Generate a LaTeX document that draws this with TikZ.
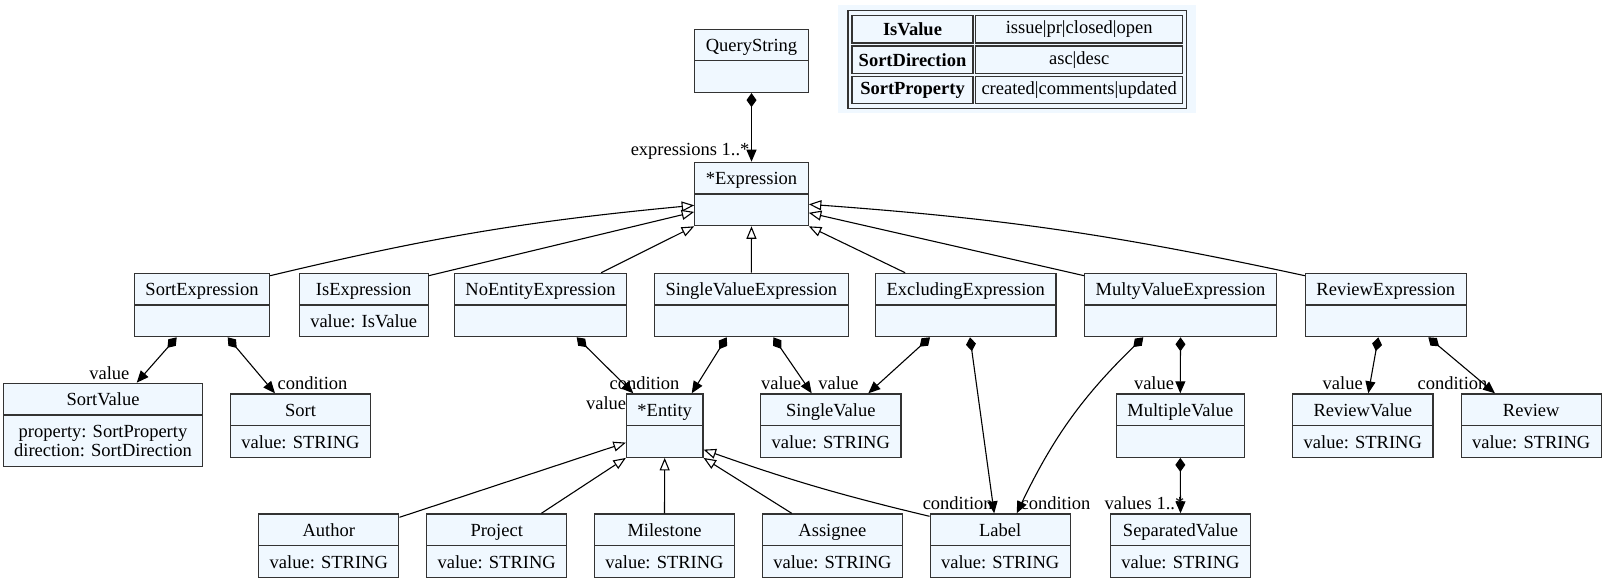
\documentclass[tikz,border=0pt]{standalone}
\usepackage{fontspec}
\setmainfont{Liberation Serif}
\usetikzlibrary{arrows.meta, shapes.multipart, calc}
\definecolor{clsfill}{HTML}{F0F8FF}
\definecolor{clsline}{HTML}{333333}
\newcommand{\hstrut}{\rule[-8.5pt]{0pt}{30.5pt}}
\newcommand{\umlfont}{\fontsize{18.5}{19.4}\selectfont}

\begin{document}
\begin{tikzpicture}[x=1pt, y=1pt,
  cls/.style={rectangle split, rectangle split parts=2, draw=clsline,
              fill=clsfill, line width=1.2pt, inner xsep=11pt,
              inner ysep=0pt, font=\umlfont, align=center, anchor=north},
  comp/.style={{Diamond[length=14pt, width=10pt]}-{Triangle[length=12pt, width=10pt]},
               line width=1.1pt},
  gen/.style={-{Triangle[open, length=12.5pt, width=10pt, fill=white]},
              line width=1.1pt},
  hl/.style={font=\umlfont, inner sep=0pt, pos=1, anchor=east, yshift=10pt},
  hr/.style={hl, anchor=west},
  tkey/.style={draw=clsline, fill=clsfill, line width=1.1pt, font=\umlfont\bfseries,
               minimum width=121pt, minimum height=27.5pt, inner sep=0pt},
  tval/.style={tkey, font=\umlfont, minimum width=207pt}
]
\useasboundingbox (0,0) rectangle (1606,-581);

% Enum table
\fill[clsfill] (838,-5) rectangle (1196,-113);
\draw[clsline, line width=1.1pt] (848,-10.7) rectangle (1186.5,-108.3);
\node[tkey] (isv-k) at (912.5,-29.2) {IsValue};
\node[tval] (isv-v) at (1079.2,-29.2) {issue|pr|closed|open};
\node[tkey] (sdir-k) at (912.5,-59.7) {SortDirection};
\node[tval] (sdir-v) at (1079.2,-59.7) {asc|desc};
\node[tkey] (sprop-k) at (912.5,-90) {SortProperty};
\node[tval] (sprop-v) at (1079.2,-90) {created|comments|updated};

% Root
\node[cls] (qstr) at (751.5,-28.5) {\hstrut QueryString \nodepart{two} \hstrut};
\node[cls] (expr) at (751.5,-161.7) {\hstrut *Expression \nodepart{two} \hstrut};

% Expressions
\node[cls] (sortexpr) at (202,-272.7) {\hstrut SortExpression \nodepart{two} \hstrut};
\node[cls] (isexpr) at (363.7,-272.7) {\hstrut IsExpression \nodepart{two} \hstrut value: IsValue};
\node[cls] (noentexpr) at (540.5,-272.7) {\hstrut NoEntityExpression \nodepart{two} \hstrut};
\node[cls] (svexpr) at (751.3,-272.7) {\hstrut SingleValueExpression \nodepart{two} \hstrut};
\node[cls] (exclexpr) at (965.8,-272.7) {\hstrut ExcludingExpression \nodepart{two} \hstrut};
\node[cls] (mvexpr) at (1180.5,-272.7) {\hstrut MultyValueExpression \nodepart{two} \hstrut};
\node[cls] (revexpr) at (1385.8,-272.7) {\hstrut ReviewExpression \nodepart{two} \hstrut};

% Values
\node[cls] (sortval) at (103,-382.7) {\hstrut SortValue \nodepart{two}
  \rule{0pt}{21.5pt}property: SortProperty\\direction: SortDirection\rule[-9.5pt]{0pt}{9.5pt}};
\node[cls] (sort) at (300.5,-393.3) {\hstrut Sort \nodepart{two} \hstrut value: STRING};
\node[cls] (entity) at (664.7,-393.3) {\hstrut *Entity \nodepart{two} \hstrut};
\node[cls] (singleval) at (830.8,-393.3) {\hstrut SingleValue \nodepart{two} \hstrut value: STRING};
\node[cls] (multival) at (1180.3,-393.3) {\hstrut MultipleValue \nodepart{two} \hstrut};
\node[cls] (revval) at (1362.8,-393.3) {\hstrut ReviewValue \nodepart{two} \hstrut value: STRING};
\node[cls] (review) at (1531.2,-393.3) {\hstrut Review \nodepart{two} \hstrut value: STRING};

% Entities
\node[cls] (author) at (328.8,-513.3) {\hstrut Author \nodepart{two} \hstrut value: STRING};
\node[cls] (project) at (496.7,-513.3) {\hstrut Project \nodepart{two} \hstrut value: STRING};
\node[cls] (milestone) at (664.5,-513.3) {\hstrut Milestone \nodepart{two} \hstrut value: STRING};
\node[cls] (assignee) at (832.4,-513.3) {\hstrut Assignee \nodepart{two} \hstrut value: STRING};
\node[cls] (labelc) at (1000.2,-513.3) {\hstrut Label \nodepart{two} \hstrut value: STRING};
\node[cls] (sepval) at (1180.5,-513.3) {\hstrut SeparatedValue \nodepart{two} \hstrut value: STRING};

% Generalisations to *Expression
\draw[gen] ([yshift=-3pt]sortexpr.north east) to[bend left=4] ([yshift=21pt]expr.south west);
\draw[gen] ([yshift=-3pt]isexpr.north east) -- ([yshift=14.4pt]expr.south west);
\draw[gen] ([xshift=-26pt]noentexpr.north east) -- (expr.south west);
\draw[gen] (svexpr.north) -- (expr.south);
\draw[gen] ([xshift=30pt]exclexpr.north west) -- (expr.south east);
\draw[gen] ([yshift=-3pt]mvexpr.north west) -- ([yshift=13.5pt]expr.south east);
\draw[gen] ([yshift=-3pt]revexpr.north west) to[bend right=4] ([yshift=22pt]expr.south east);

% Generalisations to *Entity
\draw[gen] ([yshift=-4pt]author.north east) -- ([yshift=15.3pt]entity.south west);
\draw[gen] ([xshift=-26pt]project.north east) -- (entity.south west);
\draw[gen] (milestone.north) -- (entity.south);
\draw[gen] ([xshift=30pt]assignee.north west) -- (entity.south east);
\draw[gen] ([yshift=-3pt]labelc.north west) to[bend left=3] ([yshift=8.3pt]entity.south east);

% Compositions
\draw[comp] (qstr.south) -- (expr.north)
  node[hl, xshift=-1.5pt] {expressions 1..*};
\draw[comp] ([xshift=-25.3pt]sortexpr.south) -- ([xshift=33.7pt]sortval.north)
  node[hl, xshift=-6.7pt] {value};
\draw[comp] ([xshift=25.7pt]sortexpr.south) -- ([xshift=-25.5pt]sort.north)
  node[hr, xshift=2pt, yshift=0.6pt] {condition};
\draw[comp] ([xshift=36.2pt]noentexpr.south) -- ([xshift=-31.4pt]entity.north)
  node[hl, xshift=-6.6pt, yshift=-19.4pt] {value};
\draw[comp] ([xshift=-24.6pt]svexpr.south) -- ([xshift=27pt]entity.north)
  node[hl, xshift=-11.7pt, yshift=0.6pt] {condition};
\draw[comp] ([xshift=22pt]svexpr.south) -- ([xshift=-19.1pt]singleval.north)
  node[hl, xshift=-10pt, yshift=0.6pt] {value};
\draw[comp] ([xshift=-35.8pt]exclexpr.south) -- ([xshift=37.5pt]singleval.north)
  node[hl, xshift=-9.3pt, yshift=0.6pt] {value};
\draw[comp] ([xshift=4.2pt]exclexpr.south) -- ([xshift=-6pt]labelc.north)
  node[hl, xshift=-1pt] {condition};
\draw[comp] ([xshift=-37.2pt]mvexpr.south) to[bend right=10]
  node[hr, xshift=3.3pt] {condition} ([xshift=16.5pt]labelc.north);
\draw[comp] (mvexpr.south) -- (multival.north)
  node[hl, xshift=-5.7pt, yshift=0.6pt] {value};
\draw[comp] ([xshift=-7.5pt]revexpr.south) -- ([xshift=5.5pt]revval.north)
  node[hl, xshift=-5pt, yshift=0.6pt] {value};
\draw[comp] ([xshift=42.5pt]revexpr.south) -- ([xshift=-36.2pt]review.north)
  node[hl, xshift=-7pt, yshift=0.6pt] {condition};
\draw[comp] (multival.south) -- (sepval.north)
  node[hl, xshift=4.3pt] {values 1..*};

\end{tikzpicture}
\end{document}
